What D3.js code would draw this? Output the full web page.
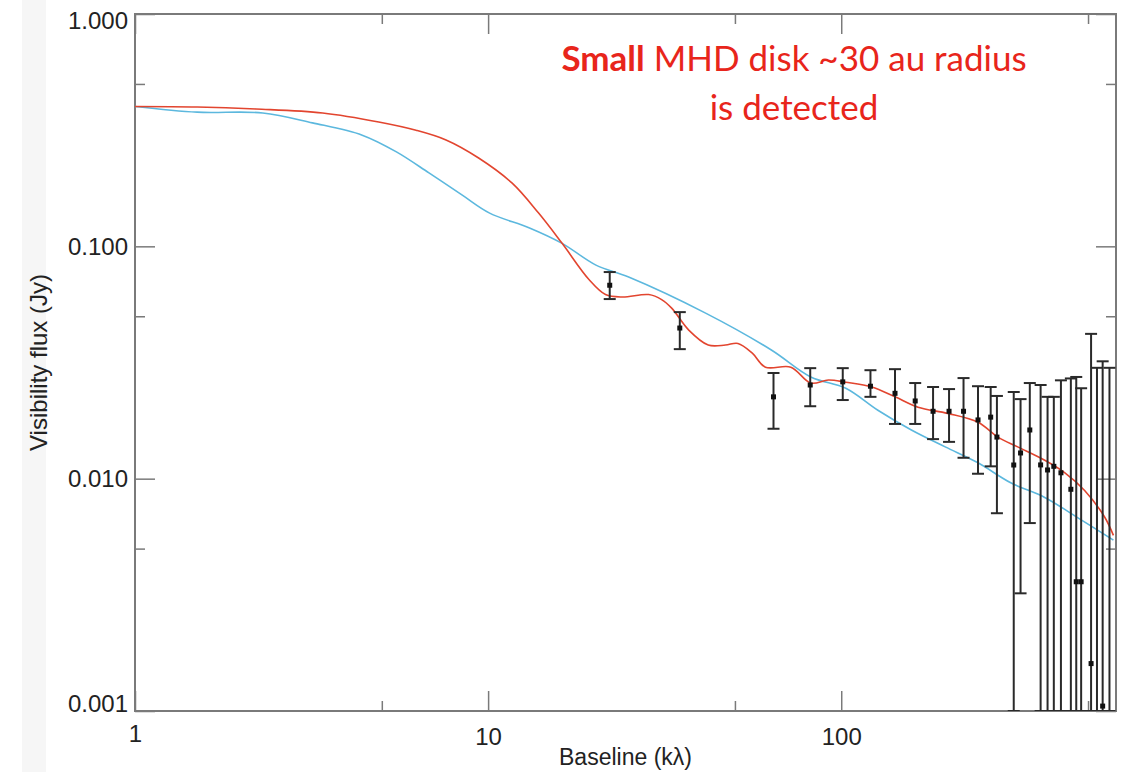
<!DOCTYPE html>
<html>
<head>
<meta charset="utf-8">
<script src="https://cdn.jsdelivr.net/npm/d3@7"></script>
<style>
  body { margin: 0; background: #fff; }
</style>
</head>
<body>
<div id="plot"></div>
<script>
// baseline (klambda) and visibility flux (Jy)
const xTicks = [1, 10, 100];
const xMinor = [5, 50, 500];
const yTicks = [0.001, 0.01, 0.1, 1];
const yMinor = [0.005, 0.05, 0.5];

// MHD disk model (red)
const mhdX = [1, 1.5, 2.2, 3.4, 4.9, 6.25, 7.6, 9.4, 11.7, 13.9, 16.2, 19.3, 21.5, 24, 28.5, 31, 33.1, 37, 42, 47, 51, 56, 61, 72, 82, 92, 103, 122, 142, 165, 200, 244, 278, 316, 377, 430, 489, 557, 590];
const mhdY = [0.40, 0.398, 0.39, 0.375, 0.343, 0.316, 0.287, 0.24, 0.187, 0.139, 0.103, 0.072, 0.062, 0.0605, 0.062, 0.059, 0.0542, 0.0436, 0.0376, 0.0376, 0.0382, 0.0347, 0.0302, 0.0302, 0.0258, 0.0266, 0.026, 0.0248, 0.0225, 0.0203, 0.0191, 0.0175, 0.0151, 0.0137, 0.012, 0.0106, 0.0089, 0.00684, 0.0057];

// comparison model (light blue)
const hydroX = [1, 1.5, 2.3, 3.18, 4.4, 5.5, 6.8, 8.45, 10.1, 13.1, 16.2, 20.2, 25, 41.3, 63.4, 82, 103, 127, 158, 197, 244, 302, 377, 467, 590];
const hydroY = [0.40, 0.378, 0.375, 0.34, 0.301, 0.255, 0.207, 0.166, 0.139, 0.12, 0.103, 0.083, 0.0738, 0.0516, 0.0358, 0.0274, 0.0245, 0.0197, 0.0162, 0.0137, 0.0117, 0.0096, 0.0083, 0.0068, 0.00544];

// observed visibilities with error bars (null = point hidden behind the bar)
const obsX  = [22.1, 34.9, 64.3, 81.7, 101, 121, 142, 162, 182, 202, 222, 244, 265, 276, 308, 322, 342, 367, 384, 400, 419, 447, 463, 478, 510, 530, 550, 575];
const obsY  = [0.068, 0.0445, 0.0225, 0.0253, 0.0261, 0.025, 0.0233, 0.0216, 0.0195, 0.0195, 0.0195, 0.0179, 0.0184, 0.0151, 0.01145, 0.0129, 0.0162, 0.01146, 0.0109, 0.0113, 0.0106, 0.009, 0.0036, 0.0036, 0.0016, null, 0.00105, null];
const obsLo = [0.0593, 0.0361, 0.0164, 0.0205, 0.0218, 0.0225, 0.0172, 0.0172, 0.0148, 0.0144, 0.0123, 0.0105, 0.0113, 0.0071, 0.0008, 0.00321, 0.00644, 0.0008, 0.0008, 0.0008, 0.0008, 0.0008, 0.0008, 0.0008, 0.0008, 0.0008, 0.0008, 0.0008];
const obsHi = [0.0775, 0.0521, 0.0285, 0.0299, 0.0299, 0.0293, 0.0296, 0.0258, 0.0248, 0.0243, 0.0271, 0.025, 0.0248, 0.0227, 0.0236, 0.022, 0.0258, 0.0253, 0.0225, 0.0225, 0.0265, 0.027, 0.0274, 0.0245, 0.042, 0.03, 0.032, 0.03];

const noteLine1 = ["Small", " MHD disk ~30 au radius"];
const noteLine2 = "is detected";

function plot() {
    const svgwidth = 1135;
    const svgheight = 772;
    const margin = {top: 14, bottom: 61, left: 135, right: 19};
    const font_family = "'Liberation Sans', Arial, sans-serif";
    const tick_size = 24;
    const frame_color = "#7a7a7a";
    const red = "#e2452f";
    const blue = "#5cb8de";
    const cap = 6; // half width of error bar caps

    let svg = d3.select("#plot").append("svg")
        .attr("width", svgwidth)
        .attr("height", svgheight)
        .style("font-family", font_family);

    // faint strip on the left of the scanned slide
    svg.append("rect")
        .attr("x", 22).attr("y", 0)
        .attr("width", 24).attr("height", svgheight)
        .attr("fill", "#f6f6f6");

    let xScale = d3.scaleLog()
        .domain([1, 600])
        .range([margin.left, svgwidth - margin.right]);
    let yScale = d3.scaleLog()
        .domain([0.001, 1])
        .range([svgheight - margin.bottom, margin.top]);

    const x0 = margin.left, x1 = svgwidth - margin.right;
    const y0 = svgheight - margin.bottom, y1 = margin.top;

    svg.append("clipPath").attr("id", "clip")
        .append("rect")
        .attr("x", x0).attr("y", y1)
        .attr("width", x1 - x0).attr("height", y0 - y1);

    // axes: major + minor ticks, pointing inward on all four sides
    let styleAxis = (g) => {
        g.select(".domain").remove();
        g.selectAll("line").attr("stroke", frame_color).attr("stroke-width", 1.5);
        g.selectAll("text").style("font-size", tick_size).attr("fill", "#222");
    };
    let addAxis = (axis, tx, ty, values, len, labels) => {
        let a = axis.tickValues(values).tickSize(-len).tickPadding(labels ? 7 : 0);
        if (!labels) a = a.tickFormat("");
        let g = svg.append("g")
            .attr("transform", `translate(${tx},${ty})`)
            .call(a);
        styleAxis(g);
        return g;
    };
    addAxis(d3.axisLeft(yScale).tickFormat(d3.format(".3f")), x0, 0, yTicks, 20, true);
    addAxis(d3.axisLeft(yScale), x0, 0, yMinor, 10, false);
    addAxis(d3.axisRight(yScale), x1, 0, yTicks, 20, false);
    addAxis(d3.axisRight(yScale), x1, 0, yMinor, 10, false);
    let xg = addAxis(d3.axisBottom(xScale).tickFormat(d3.format("d")), 0, y0, xTicks, 20, true);
    xg.selectAll("text").attr("y", 17);
    addAxis(d3.axisBottom(xScale), 0, y0, xMinor, 10, false);
    addAxis(d3.axisTop(xScale), 0, y1, xTicks, 20, false);
    addAxis(d3.axisTop(xScale), 0, y1, xMinor, 10, false);

    // the top and bottom y labels are pulled inside the frame
    svg.selectAll("g text")
        .filter(d => d === 1).attr("dy", "0.6em");
    svg.selectAll("g text")
        .filter(d => d === 0.001).attr("dy", "0.0em");

    // frame
    svg.append("rect")
        .attr("x", x0).attr("y", y1)
        .attr("width", x1 - x0).attr("height", y0 - y1)
        .attr("fill", "none")
        .attr("stroke", frame_color)
        .attr("stroke-width", 2);

    // axis titles
    svg.append("text")
        .text("Baseline (kλ)")
        .attr("x", (x0 + x1) / 2)
        .attr("y", 765)
        .attr("text-anchor", "middle")
        .style("font-size", tick_size - 1)
        .attr("fill", "#222");
    svg.append("text")
        .text("Visibility flux (Jy)")
        .attr("transform", `translate(47, ${(y0 + y1) / 2}) rotate(-90)`)
        .attr("text-anchor", "middle")
        .style("font-size", tick_size)
        .attr("fill", "#222");

    let plotArea = svg.append("g").attr("clip-path", "url(#clip)");

    // model curves
    let line = d3.line()
        .x(d => xScale(d[0]))
        .y(d => yScale(d[1]))
        .curve(d3.curveCatmullRom);
    plotArea.append("path")
        .datum(hydroX.map((x, i) => [x, hydroY[i]]))
        .attr("d", line)
        .attr("fill", "none")
        .attr("stroke", blue)
        .attr("stroke-width", 1.6);
    plotArea.append("path")
        .datum(mhdX.map((x, i) => [x, mhdY[i]]))
        .attr("d", line)
        .attr("fill", "none")
        .attr("stroke", red)
        .attr("stroke-width", 1.6);

    // error bars and points
    let obs = obsX.map((x, i) => ({x: x, y: obsY[i], lo: Math.max(obsLo[i], 0.001), hi: obsHi[i]}));
    let bars = plotArea.append("g")
        .attr("stroke", "#2a2a2a")
        .attr("stroke-width", 2);
    bars.selectAll(".err").data(obs).enter().append("line")
        .attr("x1", d => xScale(d.x)).attr("x2", d => xScale(d.x))
        .attr("y1", d => yScale(d.lo)).attr("y2", d => yScale(d.hi));
    bars.selectAll(".capHi").data(obs).enter().append("line")
        .attr("x1", d => xScale(d.x) - cap).attr("x2", d => xScale(d.x) + cap)
        .attr("y1", d => yScale(d.hi)).attr("y2", d => yScale(d.hi));
    bars.selectAll(".capLo").data(obs).enter().append("line")
        .attr("x1", d => xScale(d.x) - cap).attr("x2", d => xScale(d.x) + cap)
        .attr("y1", d => yScale(d.lo)).attr("y2", d => yScale(d.lo));
    plotArea.selectAll(".pt").data(obs.filter(d => d.y !== null)).enter().append("rect")
        .attr("x", d => xScale(d.x) - 2.5)
        .attr("y", d => yScale(d.y) - 2.5)
        .attr("width", 5).attr("height", 5)
        .attr("fill", "#111");

    // red annotation
    let note = svg.append("text")
        .attr("x", 794)
        .attr("y", 71)
        .attr("text-anchor", "middle")
        .style("font-family", "Lato, 'Open Sans', sans-serif")
        .style("font-size", 35)
        .attr("fill", "#e8251b");
    note.append("tspan").text(noteLine1[0]).style("font-weight", "bold");
    note.append("tspan").text(noteLine1[1]);
    svg.append("text")
        .text(noteLine2)
        .attr("x", 794)
        .attr("y", 120)
        .attr("text-anchor", "middle")
        .style("font-family", "Lato, 'Open Sans', sans-serif")
        .style("font-size", 35)
        .attr("fill", "#e8251b");
}

plot();
</script>
</body>
</html>
